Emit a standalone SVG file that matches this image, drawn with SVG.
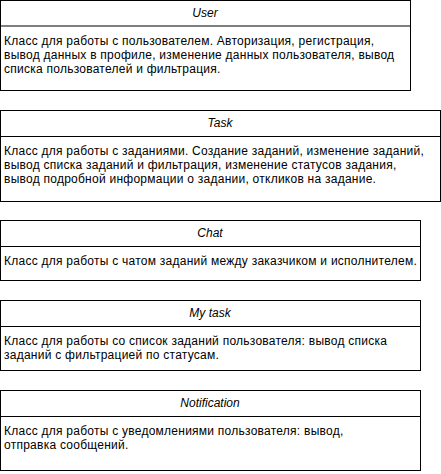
<svg xmlns="http://www.w3.org/2000/svg" width="441" height="474" viewBox="0 0 441 474">
<style>
.box{fill:#fff;stroke:#000;stroke-width:1}
.div{stroke:#000;stroke-width:1}
.h{font-family:"Liberation Sans",Arial,sans-serif;font-size:12px;font-style:italic;text-anchor:middle;fill:#000}
.b{font-family:"Liberation Sans",Arial,sans-serif;font-size:12px;letter-spacing:0.25px;fill:#000}
</style>
<rect width="441" height="474" fill="#fff"/>
<g id="connectors"></g>
<g id="user">
<rect class="box" x="0.5" y="0.5" width="410" height="90"/>
<line class="div" x1="0.5" y1="26" x2="410.5" y2="26"/>
<text class="h" x="205" y="17">User</text>
<text class="b" x="4" y="45">Класс для работы с пользователем. Авторизация, регистрация,</text>
<text class="b" x="4" y="59">вывод данных в профиле, изменение данных пользователя, вывод</text>
<text class="b" x="4" y="73">списка пользователей и фильтрация.</text>
</g>
<g id="task">
<rect class="box" x="0.5" y="110.5" width="440" height="91"/>
<line class="div" x1="0.5" y1="136.5" x2="440.5" y2="136.5"/>
<text class="h" x="220" y="127">Task</text>
<text class="b" x="4" y="155">Класс для работы с заданиями. Создание заданий, изменение заданий,</text>
<text class="b" x="4" y="169">вывод списка заданий и фильтрация, изменение статусов задания,</text>
<text class="b" x="4" y="183">вывод подробной информации о задании, откликов на задание.</text>
</g>
<g id="chat">
<rect class="box" x="0.5" y="220.5" width="420" height="60"/>
<line class="div" x1="0.5" y1="246.5" x2="420.5" y2="246.5"/>
<text class="h" x="210" y="237">Chat</text>
<text class="b" x="4" y="265">Класс для работы с чатом заданий между заказчиком и исполнителем.</text>
</g>
<g id="mytask">
<rect class="box" x="0.5" y="300.5" width="420" height="70"/>
<line class="div" x1="0.5" y1="326.5" x2="420.5" y2="326.5"/>
<text class="h" x="210" y="317">My task</text>
<text class="b" x="4" y="345">Класс для работы со список заданий пользователя: вывод списка</text>
<text class="b" x="4" y="359">заданий с фильтрацией по статусам.</text>
</g>
<g id="notification">
<rect class="box" x="0.5" y="390.5" width="420" height="80"/>
<line class="div" x1="0.5" y1="416.5" x2="420.5" y2="416.5"/>
<text class="h" x="210" y="407">Notification</text>
<text class="b" x="4" y="435">Класс для работы с уведомлениями пользователя: вывод,</text>
<text class="b" x="4" y="449">отправка сообщений.</text>
</g>
</svg>
